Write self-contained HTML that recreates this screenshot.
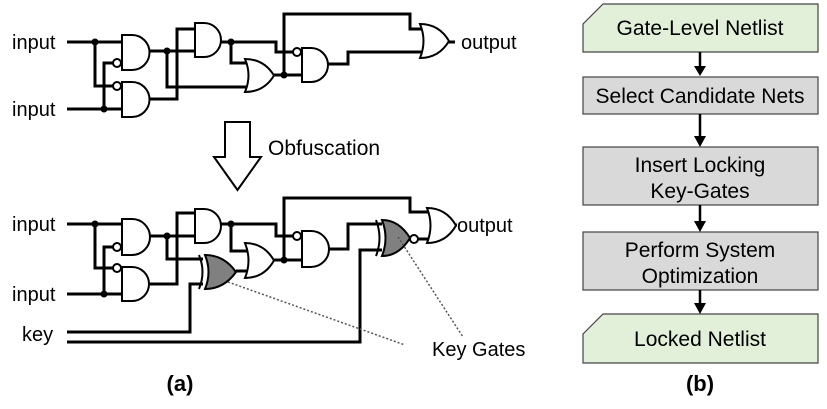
<!DOCTYPE html>
<html><head><meta charset="utf-8"><style>
html,body{margin:0;padding:0;background:#fff;}
svg{display:block;font-family:"Liberation Sans",sans-serif;}
</style></head><body>
<svg width="827" height="409" viewBox="0 0 827 409" xmlns="http://www.w3.org/2000/svg">
<g stroke="#000" stroke-width="3" fill="none" stroke-linejoin="miter">
<path d="M67 42H122 M67 109H122 M95 42V86H113 M104 109V63H113"/>
<path d="M148 51H195 M167 51V87H250 M148 99H177V29H195"/>
<path d="M220 42H276V52H295 M231 42V63H250"/>
<path d="M272 75H302 M284 75V14H410V29H423 M328 64H348V52H423 M447 42H455"/>
</g>
<g stroke="#000" stroke-width="2" fill="#fff">
<path d="M122 35H132A17.5 17.5 0 0 1 132 70H122Z"/>
<path d="M122 82H132A17.5 17.5 0 0 1 132 117H122Z"/>
<path d="M195 23H204A17 17 0 0 1 204 57H195Z"/>
<path d="M302 48H311A17 17 0 0 1 311 82H302Z"/>
<path d="M245 59Q252 75.5 245 92Q264 92 274 75.5Q264 59 245 59Z"/>
<path d="M420 24Q427 41 420 58Q439 58 449 41Q439 24 420 24Z"/>
<circle cx="117" cy="63" r="4"/><circle cx="117" cy="86" r="4"/><circle cx="297" cy="52" r="4"/>
</g>
<g fill="#000"><circle cx="95" cy="42" r="3.5"/><circle cx="104" cy="109" r="3.5"/><circle cx="167" cy="51" r="3.5"/><circle cx="231" cy="42" r="3.5"/><circle cx="284" cy="75" r="3.5"/></g>
<text x="12" y="49" font-size="20">input</text>
<text x="12" y="116" font-size="20">input</text>
<text x="461" y="49" font-size="20">output</text>

<path d="M225 122H250V157H261L237.5 190L214 157H225Z" fill="#fff" stroke="#000" stroke-width="2"/>
<text x="268" y="155" font-size="21">Obfuscation</text>

<g stroke="#000" stroke-width="3" fill="none">
<path d="M67 224H122 M67 294H122 M95 224V268H113 M104 294V247H113"/>
<path d="M148 236H195 M167 236V259H203 M148 284H177V213H195"/>
<path d="M220 224H276V236H295 M231 224V251H250"/>
<path d="M236 271H250 M272 260H302 M284 260V198H410V212H430 M328 249H348V224H382"/>
<path d="M67 332H190V284H203 M67 342H360V250H382 M417 239H430 M452 225H457"/>
</g>
<g stroke="#000" stroke-width="2" fill="#fff">
<path d="M122 219H132A18 18 0 0 1 132 255H122Z"/>
<path d="M122 267H132A17 17 0 0 1 132 301H122Z"/>
<path d="M195 209H204A17 17 0 0 1 204 243H195Z"/>
<path d="M302 231H311A18 18 0 0 1 311 267H302Z"/>
<path d="M245 243Q252 260.5 245 278Q264 278 274 260.5Q264 243 245 243Z"/>
<path d="M427 208Q434 225.5 427 243Q446 243 456 225.5Q446 208 427 208Z"/>
<path d="M199 255Q206 272 199 289" fill="none"/>
<path d="M205 255Q212 272 205 289Q224 289 236 272Q224 255 205 255Z" fill="#808080"/>
<path d="M376 220Q383 238 376 256" fill="none"/>
<path d="M382 220Q389 238 382 256Q399 256 410 238Q399 220 382 220Z" fill="#808080"/>
<circle cx="117" cy="247" r="4"/><circle cx="117" cy="268" r="4"/><circle cx="297" cy="236" r="4"/><circle cx="414" cy="239" r="4"/>
</g>
<g fill="#000"><circle cx="95" cy="224" r="3.5"/><circle cx="104" cy="294" r="3.5"/><circle cx="167" cy="236" r="3.5"/><circle cx="231" cy="224" r="3.5"/><circle cx="284" cy="260" r="3.5"/></g>
<path d="M228 282L405 345 M398 237L463 337" stroke="#555" stroke-width="1.5" stroke-dasharray="2,2" fill="none"/>
<text x="12" y="231" font-size="20">input</text>
<text x="12" y="301" font-size="20">input</text>
<text x="22" y="341" font-size="20">key</text>
<text x="457" y="232" font-size="20">output</text>
<text x="432" y="356" font-size="20">Key Gates</text>
<text x="180" y="391" font-size="22" font-weight="bold" text-anchor="middle">(a)</text>

<g stroke="#444" stroke-width="1.2">
<path d="M603 4H818V52H583V24Z" fill="#e2efd9"/>
<rect x="583" y="77" width="235" height="37" fill="#d9d9d9"/>
<rect x="583" y="147" width="235" height="58" fill="#d9d9d9"/>
<rect x="583" y="232" width="235" height="58" fill="#d9d9d9"/>
<path d="M603 314H818V363H583V334Z" fill="#e2efd9"/>
</g>
<g stroke="#000" stroke-width="2.5"><path d="M700 52V67 M700 114V136 M700 205V222 M700 290V304"/></g>
<g fill="#000"><path d="M694 66H706L700 76Z M694 136H706L700 147Z M694 221H706L700 232Z M694 303H706L700 314Z"/></g>
<g font-size="21" text-anchor="middle" fill="#000">
<text x="700" y="35">Gate-Level Netlist</text>
<text x="700" y="103">Select Candidate Nets</text>
<text x="700" y="172">Insert Locking</text>
<text x="700" y="198">Key-Gates</text>
<text x="700" y="257">Perform System</text>
<text x="700" y="283">Optimization</text>
<text x="700" y="346">Locked Netlist</text>
</g>
<text x="700" y="391" font-size="22" font-weight="bold" text-anchor="middle">(b)</text>
</svg>
</body></html>
